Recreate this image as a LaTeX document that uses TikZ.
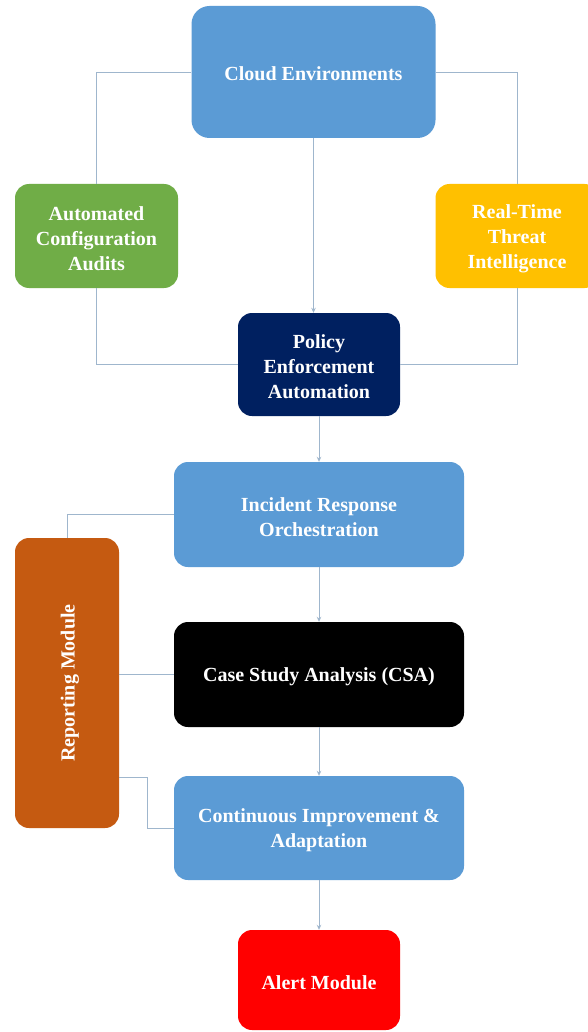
\documentclass[tikz,border=0pt]{standalone}
\usepackage{fontspec}
\setmainfont{Liberation Serif}
\usetikzlibrary{arrows.meta,positioning}
\definecolor{boxblue}{HTML}{5B9BD5}
\definecolor{boxgreen}{HTML}{70AD47}
\definecolor{boxgold}{HTML}{FFC000}
\definecolor{boxnavy}{HTML}{002060}
\definecolor{boxrust}{HTML}{C55A11}
\definecolor{boxred}{HTML}{FF0000}
\definecolor{linkcol}{HTML}{9FB6CD}
\tikzset{
  blk/.style={rectangle, rounded corners=14pt, draw=none, inner sep=0pt},
  lbl/.style={text=white, font=\bfseries\fontsize{20}{25}\selectfont,
    align=center, inner sep=0pt},
  link/.style={draw=linkcol, line width=0.9pt},
  arr/.style={link, -{Stealth[length=5pt,width=4.5pt]}},
}
\begin{document}
\begin{tikzpicture}[x=1pt,y=-1pt]
\useasboundingbox[fill=white] (0,0) rectangle (587,1032);
% top tier
\node[blk, fill=boxblue, minimum width=244pt, minimum height=132pt, rounded corners=18pt]
  (cloud) at (313.5,72) {};
\node[blk, fill=boxgreen, minimum width=163pt, minimum height=104pt]
  (audit) at (96.5,236) {};
\node[blk, fill=boxgold, minimum width=163pt, minimum height=104pt]
  (threat) at (517,236) {};
\node[blk, fill=boxnavy, minimum width=162pt, minimum height=103pt]
  (policy) at (319,364.5) {};
% main column
\node[blk, fill=boxblue, minimum width=290pt, minimum height=105pt]
  (incident) at (319,514.5) {};
\node[blk, fill=black, minimum width=290pt, minimum height=105pt]
  (csa) at (319,674.5) {};
\node[blk, fill=boxblue, minimum width=290pt, minimum height=104pt]
  (improve) at (319,828) {};
\node[blk, fill=boxred, minimum width=162pt, minimum height=100pt]
  (alert) at (319,980) {};
% side column
\node[blk, fill=boxrust, minimum width=104pt, minimum height=290pt]
  (report) at (67,683) {};
% box labels
\node[lbl] (cloudlbl) at ([yshift=-2pt]cloud.center) {Cloud Environments};
\node[lbl] (auditlbl) at ([yshift=-3pt]audit.center) {Automated\\Configuration\\Audits};
\node[lbl] (threatlbl) at ([yshift=-3pt]threat.center) {Real-Time\\Threat\\Intelligence};
\node[lbl] (policylbl) at ([yshift=-2pt]policy.center) {Policy\\Enforcement\\Automation};
\node[lbl] (incidentlbl) at ([yshift=-2.5pt]incident.center) {Incident Response\\Orchestration};
\node[lbl] (csalbl) at ([yshift=-2.5pt]csa.center) {Case Study Analysis (CSA)};
\node[lbl] (improvelbl) at ([yshift=-2.5pt]improve.center) {Continuous Improvement \&\\Adaptation};
\node[lbl] (alertlbl) at ([yshift=-3pt]alert.center) {Alert Module};
\node[lbl, rotate=90] (reportlbl) at ([xshift=3pt]report.center) {Reporting Module};
% connectors
\draw[link] (cloud.west) -| (audit.north);
\draw[link] (cloud.east) -| (threat.north);
\draw[arr] (cloud.south) -- (cloud.south |- policy.north);
\draw[link] (audit.south) |- (policy.west);
\draw[link] (threat.south) |- (policy.east);
\draw[arr] (policy.south) -- (incident.north);
\draw[link] (incident.west) -| (report.north);
\draw[arr] (incident.south) -- (csa.north);
\draw[link] (report.east |- csa.west) -- (csa.west);
\draw[arr] (csa.south) -- (improve.north);
\coordinate (bend) at (147,777);
\draw[link] (report.east |- bend) -- (bend) |- (improve.west);
\draw[arr] (improve.south) -- (alert.north);
\end{tikzpicture}
\end{document}
